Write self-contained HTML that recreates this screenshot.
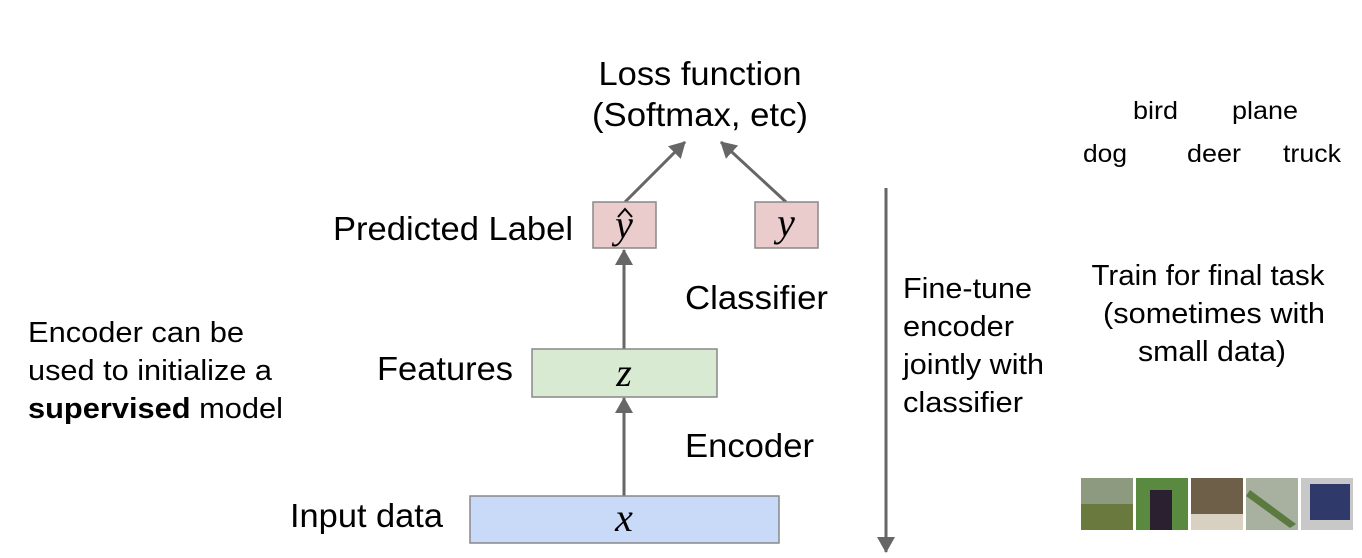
<!DOCTYPE html>
<html><head><meta charset="utf-8"><style>
html,body{margin:0;padding:0;background:#fff;width:1362px;height:558px;overflow:hidden}
svg{display:block}
text{font-family:"Liberation Sans",sans-serif;fill:#000}
.m{font-family:"Liberation Serif",serif;font-style:italic;font-size:40px}
</style></head><body>
<svg width="1362" height="558" viewBox="0 0 1362 558">
<defs>
<marker id="b" markerWidth="16" markerHeight="18" refX="15" refY="9" orient="auto" markerUnits="userSpaceOnUse" viewBox="0 0 16 18">
<path d="M0,0 L16,9 L0,18 z" fill="#666"/></marker>
</defs>
<text x="700" y="85" font-size="33" text-anchor="middle" textLength="203" lengthAdjust="spacingAndGlyphs">Loss function</text>
<text x="700" y="126" font-size="33" text-anchor="middle" textLength="216" lengthAdjust="spacingAndGlyphs">(Softmax, etc)</text>
<line x1="625" y1="202" x2="685" y2="142" stroke="#666" stroke-width="3" marker-end="url(#b)"/>
<line x1="786" y1="202" x2="721" y2="142" stroke="#666" stroke-width="3" marker-end="url(#b)"/>
<rect x="593" y="202" width="63" height="46" fill="#eacccc" stroke="#888" stroke-width="1.5"/>
<rect x="755" y="202" width="63" height="46" fill="#eacccc" stroke="#888" stroke-width="1.5"/>
<text class="m" x="624" y="238" text-anchor="middle">y</text>
<path d="M618,217 L625,209 L632,217" fill="none" stroke="#000" stroke-width="2"/>
<text class="m" x="786" y="236" text-anchor="middle">y</text>
<text x="333" y="240" font-size="33" textLength="240" lengthAdjust="spacingAndGlyphs">Predicted Label</text>
<line x1="624" y1="349" x2="624" y2="250" stroke="#666" stroke-width="3" marker-end="url(#b)"/>
<text x="685" y="309" font-size="33" textLength="143" lengthAdjust="spacingAndGlyphs">Classifier</text>
<rect x="532" y="349" width="185" height="48" fill="#d9ead3" stroke="#888" stroke-width="1.5"/>
<text class="m" x="624" y="386" text-anchor="middle">z</text>
<text x="377" y="380" font-size="33" textLength="136" lengthAdjust="spacingAndGlyphs">Features</text>
<line x1="624" y1="496" x2="624" y2="398" stroke="#666" stroke-width="3" marker-end="url(#b)"/>
<text x="685" y="457" font-size="33" textLength="129" lengthAdjust="spacingAndGlyphs">Encoder</text>
<rect x="470" y="496" width="309" height="47" fill="#c9daf8" stroke="#888" stroke-width="1.5"/>
<text class="m" x="624" y="531" text-anchor="middle">x</text>
<text x="290" y="527" font-size="33" textLength="153" lengthAdjust="spacingAndGlyphs">Input data</text>
<text x="28" y="342" font-size="29" textLength="216" lengthAdjust="spacingAndGlyphs">Encoder can be</text>
<text x="28" y="380" font-size="29" textLength="244" lengthAdjust="spacingAndGlyphs">used to initialize a</text>
<text x="28" y="418" font-size="29" textLength="255" lengthAdjust="spacingAndGlyphs"><tspan font-weight="bold">supervised</tspan> model</text>
<line x1="886" y1="188" x2="886" y2="552" stroke="#666" stroke-width="3" marker-end="url(#b)"/>
<text x="903" y="298" font-size="29" textLength="129" lengthAdjust="spacingAndGlyphs">Fine-tune</text>
<text x="903" y="336" font-size="29" textLength="111" lengthAdjust="spacingAndGlyphs">encoder</text>
<text x="903" y="374" font-size="29" textLength="141" lengthAdjust="spacingAndGlyphs">jointly with</text>
<text x="903" y="412" font-size="29" textLength="120" lengthAdjust="spacingAndGlyphs">classifier</text>
<text x="1208" y="285" font-size="29" text-anchor="middle" textLength="233" lengthAdjust="spacingAndGlyphs">Train for final task</text>
<text x="1214" y="323" font-size="29" text-anchor="middle" textLength="222" lengthAdjust="spacingAndGlyphs">(sometimes with</text>
<text x="1212" y="361" font-size="29" text-anchor="middle" textLength="148" lengthAdjust="spacingAndGlyphs">small data)</text>
<text x="1133" y="119" font-size="25" textLength="45" lengthAdjust="spacingAndGlyphs">bird</text>
<text x="1232" y="119" font-size="25" textLength="66" lengthAdjust="spacingAndGlyphs">plane</text>
<text x="1083" y="162" font-size="25" textLength="44" lengthAdjust="spacingAndGlyphs">dog</text>
<text x="1187" y="162" font-size="25" textLength="54" lengthAdjust="spacingAndGlyphs">deer</text>
<text x="1283" y="162" font-size="25" textLength="58" lengthAdjust="spacingAndGlyphs">truck</text>
<g>
<rect x="1081" y="478" width="52" height="52" fill="#6a7a3e"/>
<rect x="1081" y="478" width="52" height="26" fill="#8e9a80"/>
<rect x="1136" y="478" width="52" height="52" fill="#5a8a40"/>
<rect x="1150" y="490" width="22" height="40" fill="#2a2030"/>
<rect x="1191" y="478" width="52" height="52" fill="#6e6048"/>
<rect x="1191" y="514" width="52" height="16" fill="#d8d0c0"/>
<rect x="1246" y="478" width="52" height="52" fill="#a8b0a0"/>
<path d="M1250,490 L1296,524 L1290,528 L1246,496z" fill="#5a7a40"/>
<rect x="1301" y="478" width="52" height="52" fill="#c8c8c8"/>
<rect x="1310" y="484" width="40" height="36" fill="#303a6a"/>
</g>
</svg>
</body></html>
